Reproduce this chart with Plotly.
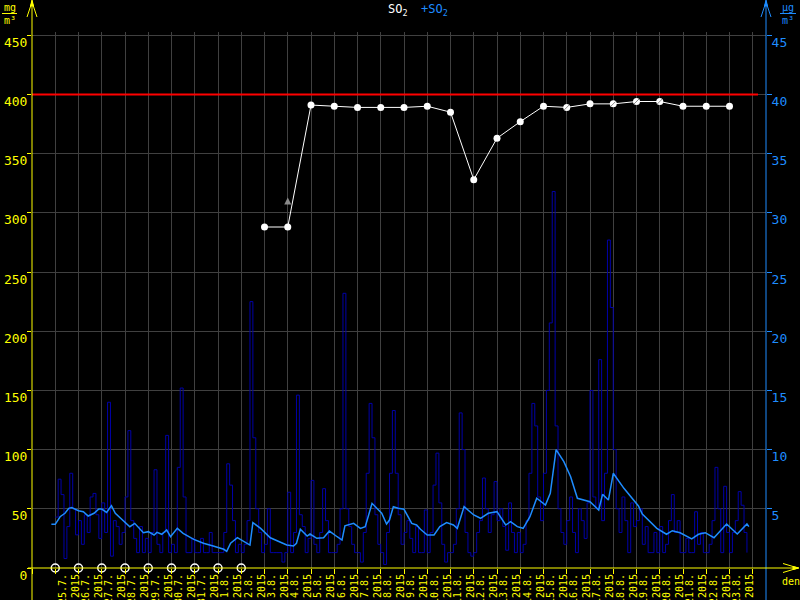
import plotly.graph_objects as go
import pandas as pd

# ---------------- data ----------------
daily_dates = ["2015-08-03", "2015-08-04", "2015-08-05", "2015-08-06", "2015-08-07",
               "2015-08-08", "2015-08-09", "2015-08-10", "2015-08-11", "2015-08-12",
               "2015-08-13", "2015-08-14", "2015-08-15", "2015-08-16", "2015-08-17",
               "2015-08-18", "2015-08-19", "2015-08-20", "2015-08-21", "2015-08-22",
               "2015-08-23"]
daily_so2 = [288, 288, 391, 390, 389, 389, 389, 390, 385, 328,
             363, 377, 390, 389, 392, 392, 394, 394, 390, 390, 390]

missing_dates = ["2015-07-25", "2015-07-26", "2015-07-27", "2015-07-28", "2015-07-29",
                 "2015-07-30", "2015-07-31", "2015-08-01", "2015-08-02"]

flag_up_dates = ["2015-08-04"]
flag_up_values = [313]
flag_dates = ["2015-08-16", "2015-08-18", "2015-08-19", "2015-08-20"]
flag_values = [389, 392, 394, 394]

limit_value = 400

hourly_start = "2015-07-25 00:00"
hourly_step_hours = 3
hourly_so2 = [
    4.3, 7.5, 6.2, 0.8, 3.5, 8.0, 5.0, 2.8,
    4.0, 2.0, 4.5, 3.0, 6.0, 6.3, 4.5, 2.5,
    5.5, 3.0, 14.0, 1.0, 4.0, 3.5, 2.0, 3.0,
    6.0, 11.6, 4.0, 2.5, 1.3, 3.5, 1.3, 2.5,
    1.3, 3.0, 8.3, 2.0, 1.3, 3.0, 11.2, 1.3,
    2.0, 1.3, 8.5, 15.2, 6.0, 1.3, 1.3, 2.5,
    1.3, 1.3, 2.5, 1.3, 1.3, 3.0, 1.3, 1.3,
    1.3, 1.3, 3.0, 8.8, 7.0, 4.0, 1.3, 2.0,
    1.3, 2.0, 4.0, 22.5, 11.0, 5.0, 3.0, 1.3,
    2.0, 5.0, 1.3, 1.3, 1.3, 1.3, 0.5, 1.3,
    6.4, 1.3, 3.0, 14.6, 4.5, 3.5, 1.3, 2.5,
    7.4, 2.0, 1.3, 3.0, 6.7, 4.0, 1.3, 1.3,
    1.3, 2.0, 5.0, 23.2, 5.0, 3.5, 2.0, 1.3,
    1.3, 0.5, 3.0, 8.0, 13.9, 11.0, 4.5, 2.0,
    1.3, 0.3, 3.0, 8.0, 13.3, 8.0, 4.5, 2.0,
    3.0, 4.0, 2.5, 1.3, 3.5, 1.3, 1.3, 4.9,
    1.3, 3.0, 7.0, 9.7, 5.5, 2.0, 0.5, 1.3,
    1.3, 2.0, 5.0, 13.1, 10.0, 3.0, 1.3, 1.0,
    1.3, 3.0, 4.0, 7.6, 5.0, 3.0, 4.5, 7.3,
    4.0, 5.0, 3.5, 1.5, 5.5, 3.0, 1.3, 3.0,
    1.3, 2.0, 4.0, 8.0, 13.9, 12.0, 6.0, 4.0,
    8.0, 15.0, 20.7, 31.8, 12.0, 5.0, 3.0, 2.0,
    4.0, 6.0, 3.0, 1.3, 5.0, 4.0, 2.5, 5.5,
    15.0, 6.0, 5.0, 17.6, 4.0, 8.0, 27.7, 22.0,
    10.0, 5.0, 3.0, 6.0, 4.0, 1.3, 5.5, 3.5,
    4.0, 5.0, 2.0, 3.5, 1.3, 1.3, 3.0, 1.3,
    3.5, 1.3, 2.0, 4.0, 6.2, 3.0, 4.0, 1.3,
    1.3, 2.5, 1.3, 1.3, 4.75, 2.0, 3.0, 1.3,
    1.3, 2.0, 4.0, 8.5, 5.0, 1.3, 6.9, 3.0,
    1.3, 3.0, 4.0, 6.45, 5.3, 3.0, 1.3,
]

avg_hours = [-4, 0, 5, 10, 14, 17, 24, 29, 34, 40, 45, 48, 53, 58, 62, 69, 77, 82, 91, 96,
             102, 105, 110, 115, 119, 126, 132, 143, 153, 163, 174, 177, 181, 188, 194, 201,
             204, 212, 222, 231, 239, 246, 249, 253, 260, 263, 270, 277, 283, 291, 296, 299,
             308, 315, 320, 327, 332, 337, 342, 345, 349, 354, 360, 368, 373, 377, 384, 391,
             397, 404, 411, 415, 422, 432, 439, 447, 456, 465, 470, 477, 483, 490, 497, 506,
             511, 517, 525, 532, 539, 545, 552, 561, 565, 571, 576, 587, 602, 606, 621, 631,
             637, 645, 657, 664, 671, 680, 693, 704, 714, 716]
avg_so2 = [3.69, 3.69, 4.33, 4.62, 5.04, 5.10, 4.84, 4.76, 4.39, 4.62, 4.98, 4.98, 4.70, 5.26,
           4.62, 4.11, 3.49, 3.77, 2.98, 3.07, 2.79, 3.01, 2.85, 3.21, 2.64, 3.35, 2.93, 2.42,
           2.09, 1.86, 1.58, 1.41, 2.09, 2.56, 2.28, 1.94, 3.83, 3.35, 2.55, 2.22, 1.94, 1.86,
           2.09, 3.27, 2.70, 2.87, 2.51, 2.56, 3.12, 2.64, 2.36, 3.57, 3.77, 3.35, 3.49, 5.46,
           5.04, 4.62, 3.72, 4.05, 5.18, 5.04, 4.96, 3.77, 3.63, 3.27, 2.79, 2.79, 3.49, 3.83,
           3.63, 3.35, 5.18, 4.48, 4.20, 4.62, 4.76, 3.63, 3.91, 3.49, 3.35, 4.33, 5.89, 5.32,
           6.31, 10.0, 8.98, 7.71, 5.89, 5.74, 5.60, 4.90, 6.22, 5.74, 8.00, 6.73, 5.24, 4.56,
           3.35, 2.85, 3.15, 2.98, 2.45, 2.85, 2.98, 2.56, 3.72, 2.87, 3.72, 3.49]

left_ticks = [0, 50, 100, 150, 200, 250, 300, 350, 400, 450]
right_ticks = [5, 10, 15, 20, 25, 30, 35, 40, 45]

# ---------------- styling ----------------
YELLOW = "#ffff00"
BLUE = "#1e8cff"
NAVY = "#0000a8"
GRID = "#404040"
FONT = "DejaVu Sans Mono"

# plot area in pixels (left/top/right/bottom)
PL, PT, PR, PB = 32, 32, 766, 568
W, H = 800, 600

def fx(p):
    return (p - PL) / (PR - PL)

def fy(p):
    return (PB - p) / (PB - PT)

day_px = 23.25
px_per_unit = 59.2 / 50
x_start = pd.Timestamp("2015-07-24 00:00")
x_end = x_start + pd.Timedelta(days=(PR - PL) / day_px)
y_max = (PB - PT) / px_per_unit
y2_max = y_max / 10

hourly_times = pd.date_range(hourly_start, periods=len(hourly_so2),
                             freq=f"{hourly_step_hours}h")
avg_times = [pd.Timestamp(hourly_start) + pd.Timedelta(hours=h) for h in avg_hours]

tick_days = pd.date_range("2015-07-25", "2015-08-23", freq="D")
tick_pos = [d + pd.Timedelta(hours=14) for d in tick_days]
tick_text = [f"{d.day}.{d.month}.<br>{d.year}" for d in tick_days]
grid_days = pd.date_range("2015-07-24", "2015-08-24", freq="D")

fig = go.Figure()

fig.add_trace(go.Scatter(x=hourly_times, y=hourly_so2, yaxis="y2", mode="lines",
                         line=dict(color=NAVY, width=1, shape="hv"), hoverinfo="skip"))
fig.add_trace(go.Scatter(x=avg_times, y=avg_so2, yaxis="y2", mode="lines",
                         line=dict(color=BLUE, width=1.5), hoverinfo="skip"))
fig.add_trace(go.Scatter(x=daily_dates, y=daily_so2, mode="lines+markers",
                         line=dict(color="white", width=1),
                         marker=dict(color="white", size=7), hoverinfo="skip"))
fig.add_trace(go.Scatter(x=flag_up_dates, y=flag_up_values, mode="markers",
                         marker=dict(color="#8a8a8a", size=7, symbol="arrow-up"),
                         hoverinfo="skip"))
fig.add_trace(go.Scatter(x=flag_dates, y=flag_values, mode="markers",
                         marker=dict(color="#8a8a8a", size=5, symbol="line-ne",
                                     line=dict(color="#8a8a8a", width=1)),
                         hoverinfo="skip"))
fig.add_trace(go.Scatter(x=missing_dates, y=[0] * len(missing_dates), mode="markers",
                         cliponaxis=False,
                         marker=dict(color="white", size=8, symbol="circle-open",
                                     line=dict(color="white", width=1.5)),
                         hoverinfo="skip"))

shapes = [
    # limit line
    dict(type="line", xref="paper", yref="y", x0=0, x1=fx(758), y0=limit_value,
         y1=limit_value, line=dict(color="#ff0000", width=2)),
    # left axis
    dict(type="line", xref="paper", yref="paper", x0=0, x1=0, y0=fy(H), y1=fy(1),
         line=dict(color=YELLOW, width=1)),
    dict(type="path", xref="paper", yref="paper",
         path=f"M {fx(27)},{fy(17)} L {fx(32)},{fy(2)} L {fx(37)},{fy(17)}",
         line=dict(color=YELLOW, width=1)),
    dict(type="path", xref="paper", yref="paper",
         path=f"M {fx(30.5)},{fy(6)} L {fx(32)},{fy(0)} L {fx(33.5)},{fy(6)} Z",
         fillcolor=YELLOW, line=dict(color=YELLOW, width=1)),
    # right axis
    dict(type="line", xref="paper", yref="paper", x0=1, x1=1, y0=fy(H), y1=fy(1),
         line=dict(color=BLUE, width=1)),
    dict(type="path", xref="paper", yref="paper",
         path=f"M {fx(761)},{fy(17)} L {fx(766)},{fy(2)} L {fx(771)},{fy(17)}",
         line=dict(color=BLUE, width=1)),
    dict(type="path", xref="paper", yref="paper",
         path=f"M {fx(764.5)},{fy(6)} L {fx(766)},{fy(0)} L {fx(767.5)},{fy(6)} Z",
         fillcolor=BLUE, line=dict(color=BLUE, width=1)),
    # x axis
    dict(type="line", xref="paper", yref="paper", x0=fx(28), x1=fx(798), y0=0, y1=0,
         line=dict(color=YELLOW, width=1)),
    dict(type="path", xref="paper", yref="paper",
         path=f"M {fx(783)},{fy(563.5)} L {fx(798)},{fy(568)} L {fx(783)},{fy(572.5)}",
         line=dict(color=YELLOW, width=1)),
    dict(type="path", xref="paper", yref="paper",
         path=f"M {fx(793)},{fy(566.5)} L {fx(799)},{fy(568)} L {fx(793)},{fy(569.5)} Z",
         fillcolor=YELLOW, line=dict(color=YELLOW, width=1)),
    # unit fraction bars
    dict(type="line", xref="paper", yref="paper", x0=fx(2), x1=fx(17), y0=fy(13.5),
         y1=fy(13.5), line=dict(color=YELLOW, width=1)),
    dict(type="line", xref="paper", yref="paper", x0=fx(780), x1=fx(796), y0=fy(13.5),
         y1=fy(13.5), line=dict(color=BLUE, width=1)),
]

def note(text, xp, yp, color, size):
    return dict(text=text, x=fx(xp), y=fy(yp), xref="paper", yref="paper",
                xanchor="center", yanchor="middle", showarrow=False,
                font=dict(color=color, size=size, family=FONT))

annotations = [
    note("SO<sub>2</sub>", 398, 10, "white", 12),
    note("+SO<sub>2</sub>", 434, 10, BLUE, 12),
    note("mg", 9.5, 7, YELLOW, 10),
    note("m³", 9.5, 20, YELLOW, 10),
    note("µg", 788, 7, BLUE, 10),
    note("m³", 788, 20, BLUE, 10),
    note("den", 791, 581, YELLOW, 10),
]

fig.update_layout(
    width=W, height=H, template="none",
    paper_bgcolor="black", plot_bgcolor="black",
    margin=dict(l=PL, r=W - PR, t=PT, b=H - PB, pad=0),
    showlegend=False,
    shapes=shapes, annotations=annotations,
    xaxis=dict(type="date", range=[x_start, x_end], automargin=False,
               showgrid=False, zeroline=False, showline=False,
               tickmode="array", tickvals=tick_pos, ticktext=tick_text,
               tickangle=-90, ticks="", ticklabelstandoff=3,
               tickfont=dict(color=YELLOW, size=10, family=FONT),
               minor=dict(tickmode="array", tickvals=list(grid_days), ticks="outside",
                          ticklen=5, tickcolor=YELLOW, tickwidth=1,
                          showgrid=True, gridcolor=GRID, gridwidth=1)),
    yaxis=dict(range=[0, y_max], automargin=False, tickmode="array", tickvals=left_ticks,
               ticks="outside", ticklen=4, tickcolor=YELLOW, tickwidth=1,
               tickfont=dict(color=YELLOW, size=13, family=FONT), ticklabelshift=7,
               ticklabelstandoff=-3,
               showgrid=True, gridcolor=GRID, gridwidth=1, zeroline=False, showline=False),
    yaxis2=dict(range=[0, y2_max], overlaying="y", side="right", automargin=False,
                tickmode="array", tickvals=right_ticks, ticks="outside", ticklen=5,
                tickcolor=BLUE, tickwidth=1, ticklabelshift=7, ticklabelstandoff=-3,
                tickfont=dict(color=BLUE, size=13, family=FONT),
                showgrid=False, zeroline=False, showline=False),
)

fig.write_html("out.html", config={"displayModeBar": False},
               post_script="document.body.style.margin='0';")
